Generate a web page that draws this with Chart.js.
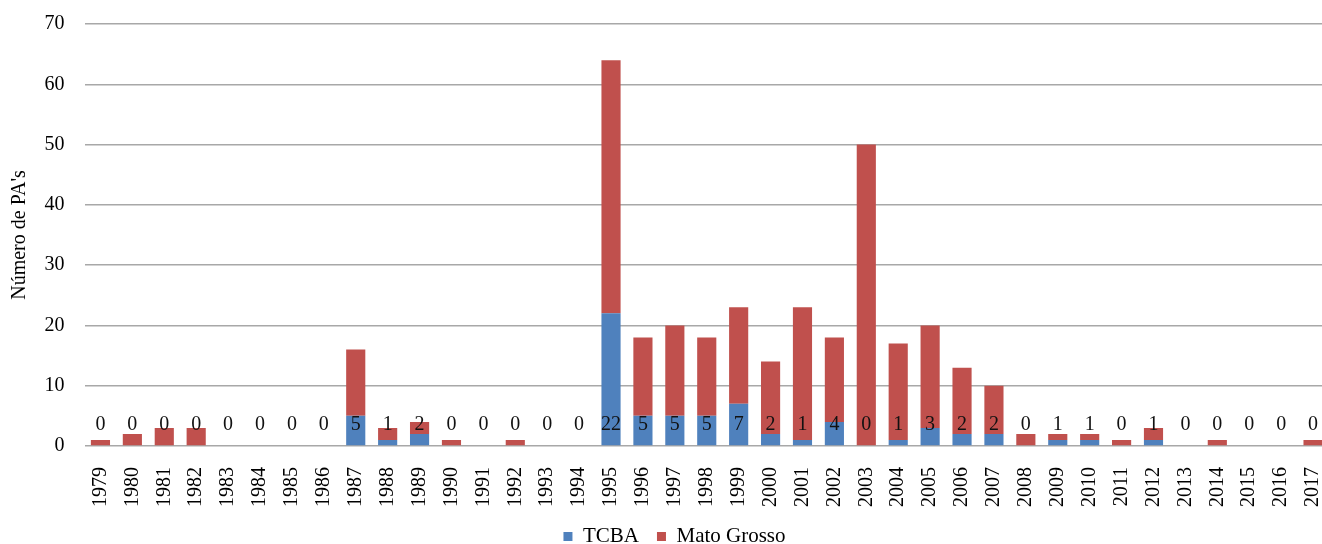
<!DOCTYPE html>
<html>
<head>
<meta charset="utf-8">
<script src="https://cdn.jsdelivr.net/npm/chart.js@4/dist/chart.umd.min.js"></script>
<style>
  html, body { margin: 0; padding: 0; background: #fff; overflow: hidden; }
  #wrap { width: 1329px; height: 557px; }
</style>
</head>
<body>
<div id="wrap"><canvas id="c" width="1329" height="557"></canvas></div>
<script>
// Years of creation and number of protected areas per region
const years = ['1979','1980','1981','1982','1983','1984','1985','1986','1987','1988',
  '1989','1990','1991','1992','1993','1994','1995','1996','1997','1998',
  '1999','2000','2001','2002','2003','2004','2005','2006','2007','2008',
  '2009','2010','2011','2012','2013','2014','2015','2016','2017'];

const tcba = [0,0,0,0,0,0,0,0,5,1,
  2,0,0,0,0,0,22,5,5,5,
  7,2,1,4,0,1,3,2,2,0,
  1,1,0,1,0,0,0,0,0];

const matoGrosso = [1,2,3,3,0,0,0,0,11,2,
  2,1,0,1,0,0,42,13,15,13,
  16,12,22,14,50,16,17,11,8,2,
  1,1,1,2,0,1,0,0,1];

const yTicks = [0,10,20,30,40,50,60,70];

const SERIF = '"Liberation Serif", "Times New Roman", serif';
const LABEL_LEVEL = 3.6; // height (in axis units) of the TCBA value row

// Writes the TCBA count of every year on one common row
const tcbaLabels = {
  id: 'tcbaLabels',
  afterDatasetsDraw(chart) {
    const ctx = chart.ctx;
    const meta = chart.getDatasetMeta(0);
    const y = chart.scales.y.getPixelForValue(LABEL_LEVEL);
    ctx.save();
    ctx.font = '20px ' + SERIF;
    ctx.fillStyle = '#111';
    ctx.textAlign = 'center';
    ctx.textBaseline = 'middle';
    meta.data.forEach((bar, i) => {
      ctx.fillText(String(tcba[i]), bar.x, y);
    });
    ctx.restore();
  }
};

// Nudges the legend row a little to the right of the canvas centre
const legendShift = {
  id: 'legendShift',
  afterLayout(chart) {
    if (chart.legend) chart.legend.left += 20;
  }
};

new Chart(document.getElementById('c'), {
  type: 'bar',
  data: {
    labels: years,
    datasets: [
      { label: 'TCBA', data: tcba, backgroundColor: '#4F81BD', borderWidth: 0 },
      { label: 'Mato Grosso', data: matoGrosso, backgroundColor: '#C0504D', borderWidth: 0 }
    ]
  },
  options: {
    responsive: false,
    animation: false,
    devicePixelRatio: 1,
    layout: { padding: { top: 24, right: 0, left: 0, bottom: 0 } },
    datasets: { bar: { barPercentage: 0.6, categoryPercentage: 1.0 } },
    plugins: {
      tooltip: { enabled: false },
      legend: {
        position: 'bottom',
        labels: {
          boxWidth: 9, boxHeight: 9, padding: 18,
          color: '#000',
          font: { family: SERIF, size: 21 }
        }
      }
    },
    scales: {
      x: {
        stacked: true,
        grid: { display: false },
        border: { display: false },
        ticks: {
          minRotation: 90, maxRotation: 90, autoSkip: false,
          padding: 13, color: '#000',
          font: { family: SERIF, size: 20 }
        },
        afterFit(s) { s.height = 62; s.paddingLeft = 0; s.paddingRight = 0; }
      },
      y: {
        stacked: true,
        min: 0, max: 70,
        afterBuildTicks(s) { s.ticks = yTicks.map(v => ({ value: v })); },
        grid: { color: '#a8a8a8', lineWidth: 1.5, drawTicks: false },
        border: { display: false },
        ticks: {
          padding: 20, color: '#000',
          font: { family: SERIF, size: 20 }
        },
        title: {
          display: true, text: "Número de PA's", color: '#000',
          font: { family: SERIF, size: 20 },
          padding: { top: 8, bottom: 0 }
        },
        afterFit(s) { s.width = 84.5; s.paddingTop = 0; s.paddingBottom = 0; }
      }
    }
  },
  plugins: [tcbaLabels, legendShift]
});
</script>
</body>
</html>
